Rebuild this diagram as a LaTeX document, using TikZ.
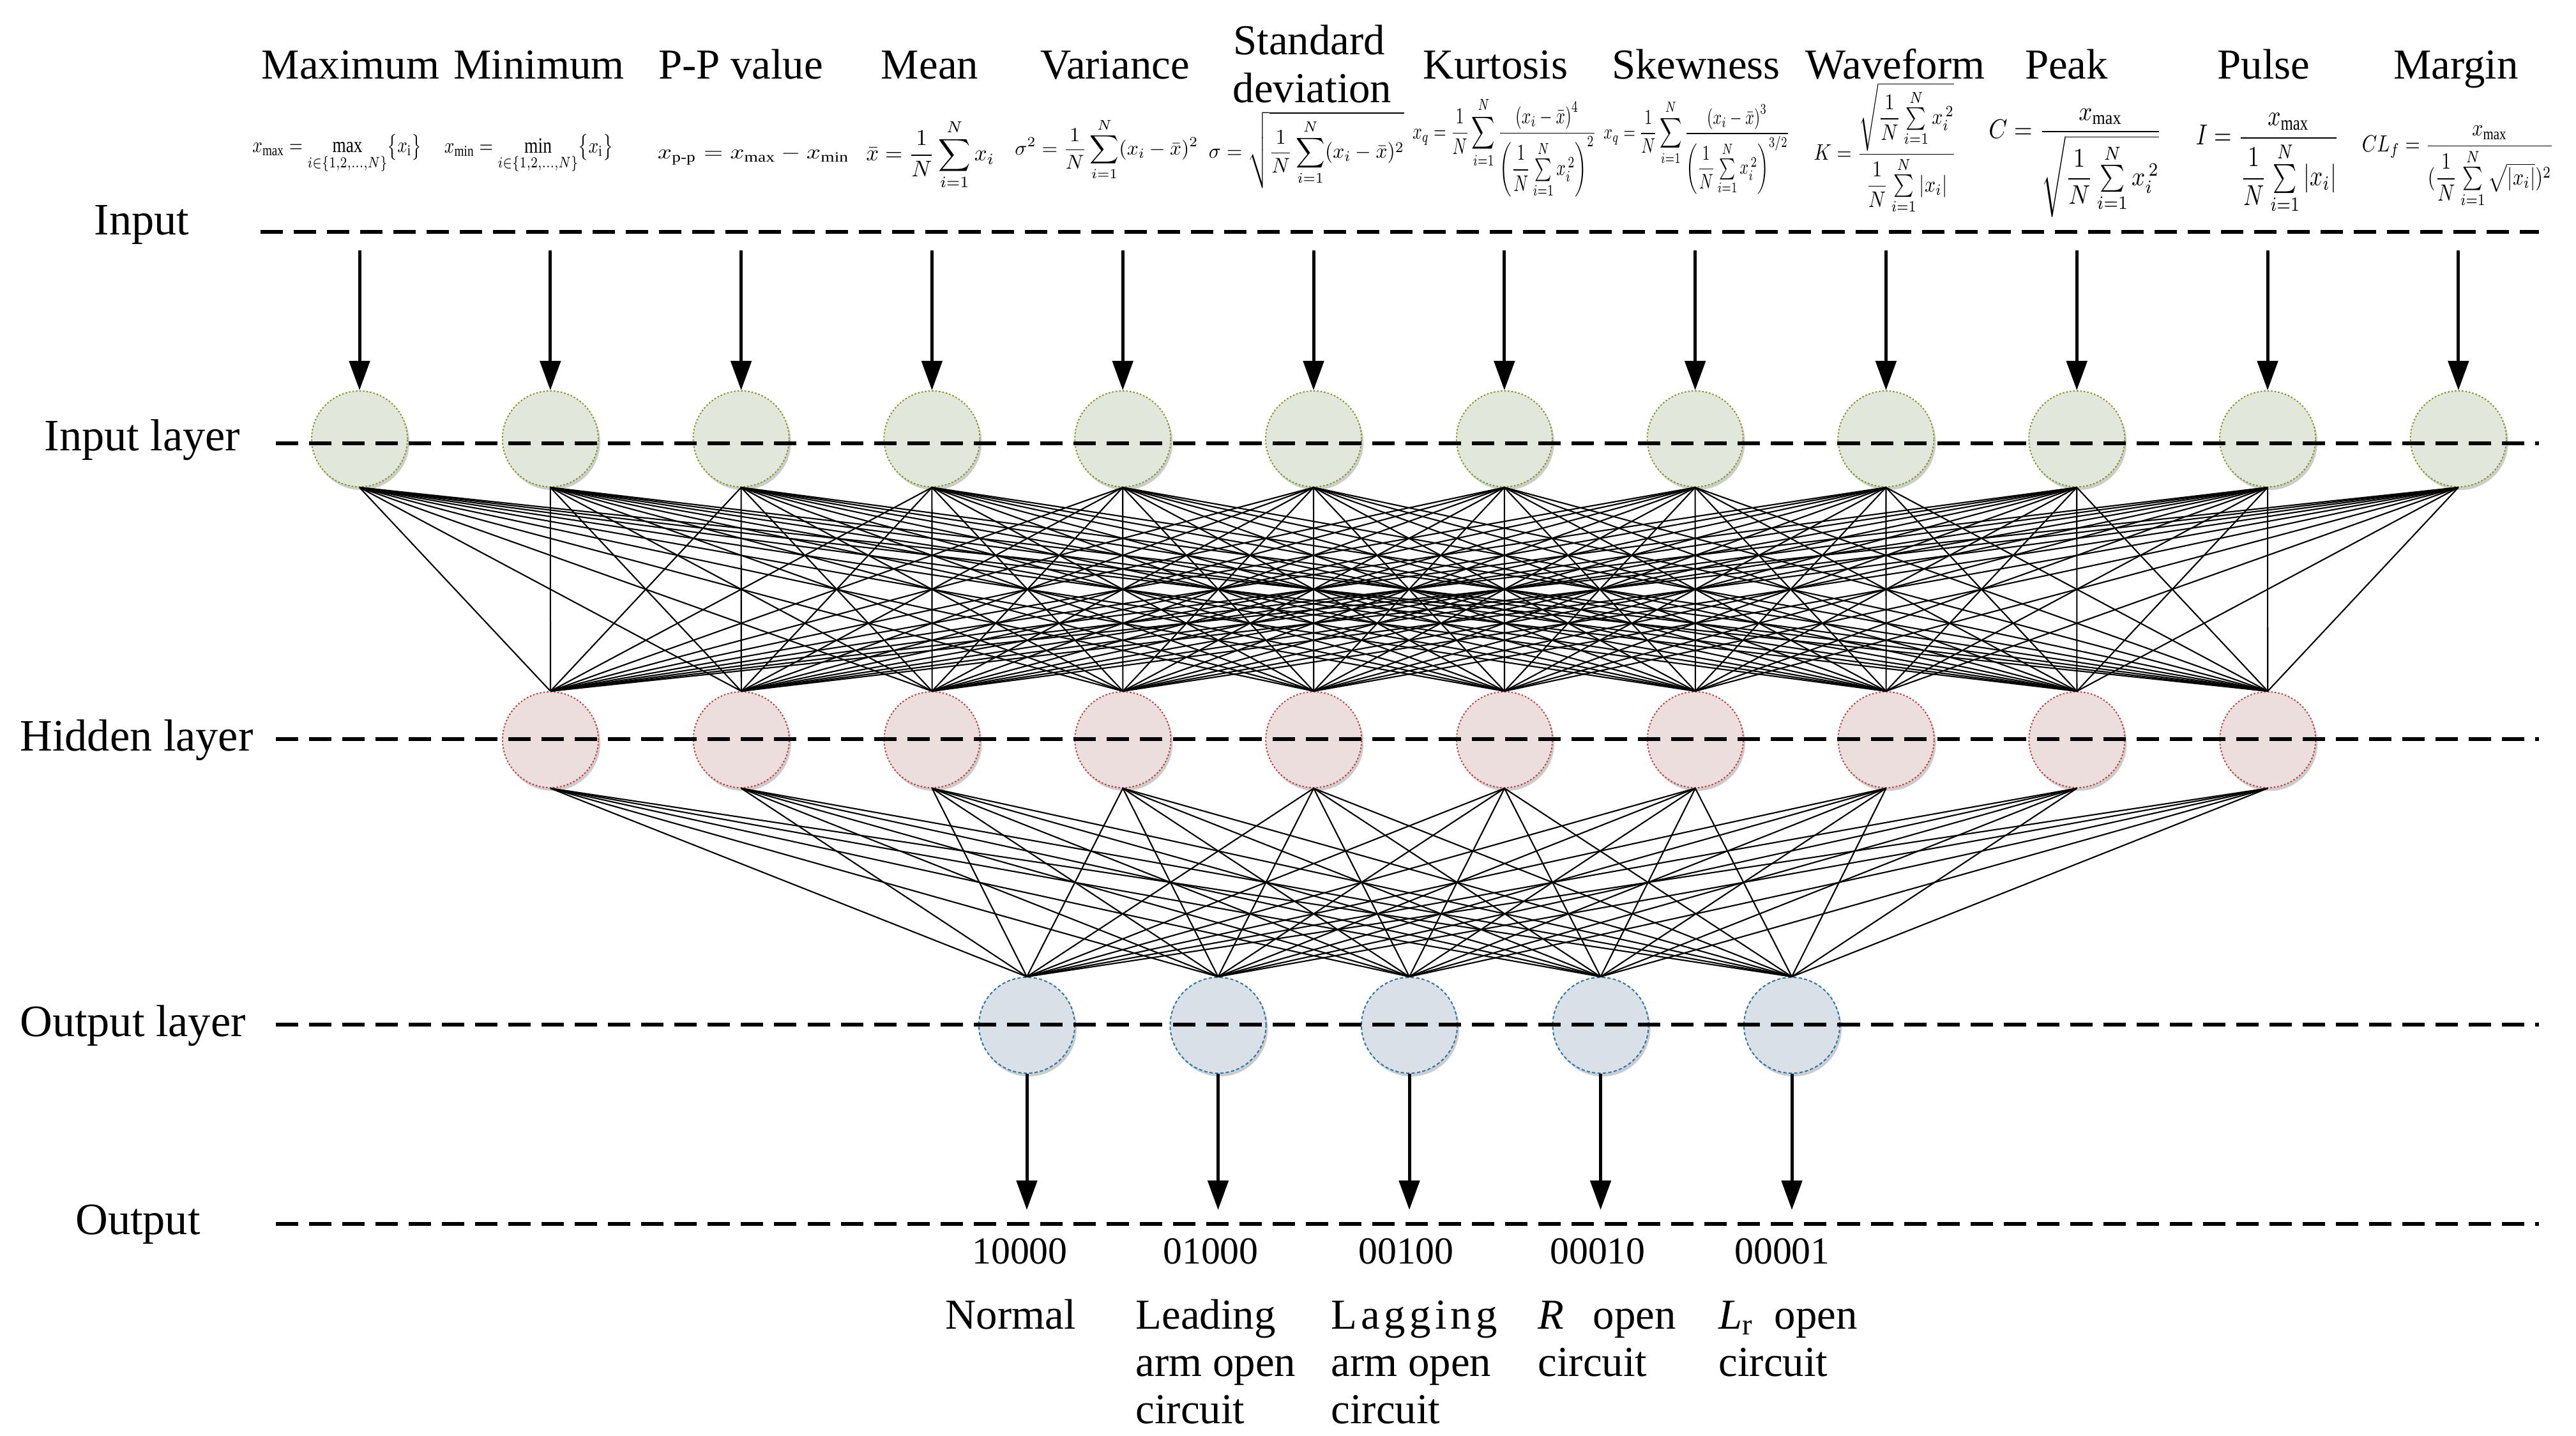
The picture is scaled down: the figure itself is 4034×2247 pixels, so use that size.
\documentclass[tikz,border=0pt]{standalone}
\usepackage{amsmath}
\usepackage{graphicx}
\usepackage{fontspec}
\setmainfont{Liberation Serif}
\usetikzlibrary{arrows.meta,shadows}
\definecolor{infill}{RGB}{226,231,220}
\definecolor{inborder}{RGB}{125,155,25}
\definecolor{hidfill}{RGB}{237,222,222}
\definecolor{hidborder}{RGB}{200,60,55}
\definecolor{outfill}{RGB}{217,224,232}
\definecolor{outborder}{RGB}{40,120,170}
\newcommand{\fml}[3]{\resizebox*{#1}{#2}{$\displaystyle #3$}}
\tikzset{
  neuron/.style={circle, minimum size=1.5cm, inner sep=0pt, line width=0.02cm,
    drop shadow={shadow xshift=0.03cm, shadow yshift=-0.05cm, fill=black!20, opacity=1}},
  innode/.style={neuron, fill=infill, draw=inborder, dash pattern=on 0.025cm off 0.03cm},
  hidnode/.style={neuron, fill=hidfill, draw=hidborder, dash pattern=on 0.025cm off 0.03cm},
  outnode/.style={neuron, fill=outfill, draw=outborder, dash pattern=on 0.05cm off 0.035cm},
  dline/.style={line width=0.06cm, dash pattern=on 0.35cm off 0.17cm},
  conn/.style={line width=0.6pt},
  arr/.style={line width=0.05cm, -{Triangle[length=0.46cm,width=0.32cm]}},
  fnode/.style={inner sep=0pt, anchor=center},
  toplabel/.style={inner sep=0pt, anchor=base, font=\fontsize{19}{23}\selectfont},
  sidelabel/.style={inner sep=0pt, anchor=base, font=\fontsize{20}{24}\selectfont},
  codelabel/.style={inner sep=0pt, anchor=base, font=\fontsize{17}{20}\selectfont},
  outlabel/.style={inner sep=0pt, anchor=base west, font=\fontsize{19}{23}\selectfont}
}
\begin{document}
\begin{tikzpicture}[x=0.01cm,y=-0.01cm]
\useasboundingbox (0,0) rectangle (4034,2247);

% ---- neurons ----
\foreach \i in {1,...,12} {
  \node[innode] (in\i) at ({563+298.8*(\i-1)}, 687) {};
}
\foreach \j in {1,...,10} {
  \node[hidnode] (hd\j) at ({862+298.8*(\j-1)}, 1158) {};
}
\foreach \k in {1,...,5} {
  \node[outnode] (out\k) at ({1608+299.5*(\k-1)}, 1605) {};
}

% ---- dashed level lines ----
\coordinate (l1a) at (408,363);  \coordinate (l1b) at (3976,363);
\coordinate (l2a) at (432,694);  \coordinate (l2b) at (3976,694);
\coordinate (l3a) at (432,1157); \coordinate (l3b) at (3976,1157);
\coordinate (l4a) at (432,1604); \coordinate (l4b) at (3976,1604);
\coordinate (l5a) at (432,1916); \coordinate (l5b) at (3976,1916);
\draw[dline] (l1a) -- (l1b);
\draw[dline] (l2a) -- (l2b);
\draw[dline] (l3a) -- (l3b);
\draw[dline] (l4a) -- (l4b);
\draw[dline] (l5a) -- (l5b);

% ---- connections ----
\foreach \i in {1,...,12} {
  \foreach \j in {1,...,10} {
    \draw[conn] (in\i.south) -- (hd\j.north);
  }
}
\foreach \j in {1,...,10} {
  \foreach \k in {1,...,5} {
    \draw[conn] (hd\j.south) -- (out\k.north);
  }
}

% ---- input / output arrows ----
\foreach \i in {1,...,12} {
  \coordinate (ia\i) at ({563+298.8*(\i-1)}, 392);
  \draw[arr] (ia\i) -- (in\i.north);
}
\foreach \k in {1,...,5} {
  \coordinate (oa\k) at ({1608+299.5*(\k-1)}, 1894);
  \draw[arr] (out\k.south) -- (oa\k);
}

% ---- side labels ----
\node[sidelabel] (tInput) at (222,367) {Input};
\node[sidelabel] (tInputLayer) at (223,705) {Input layer};
\node[sidelabel] (tHidden) at (214,1175) {Hidden layer};
\node[sidelabel] (tOutputLayer) at (208,1622) {Output layer};
\node[sidelabel] (tOutput) at (216,1932) {Output};

% ---- top labels ----
\node[toplabel] (tMax) at (549,123) {Maximum};
\node[toplabel] (tMin) at (844,123) {Minimum};
\node[toplabel] (tPP) at (1160,123) {P-P value};
\node[toplabel] (tMean) at (1456,123) {Mean};
\node[toplabel] (tVar) at (1746,123) {Variance};
\node[toplabel] (tStdA) at (2050,85) {Standard};
\node[toplabel] (tStdB) at (2055,160) {deviation};
\node[toplabel] (tKur) at (2342,123) {Kurtosis};
\node[toplabel] (tSkew) at (2656,123) {Skewness};
\node[toplabel] (tWave) at (2968,123) {Waveform};
\node[toplabel] (tPeak) at (3236,123) {Peak};
\node[toplabel] (tPulse) at (3545,123) {Pulse};
\node[toplabel] (tMargin) at (3846,123) {Margin};

% ---- formulas ----
\node[fnode] (f1) at (528,241) {\fml{2.65cm}{0.62cm}{x_{\mathrm{max}}=\max_{i\in\{1,2,\ldots,N\}}\bigl\{x_{\mathrm{i}}\bigr\}}};
\node[fnode] (f2) at (828,241) {\fml{2.64cm}{0.62cm}{x_{\mathrm{min}}=\min_{i\in\{1,2,\ldots,N\}}\bigl\{x_{\mathrm{i}}\bigr\}}};
\node[fnode] (f3) at (1180,244) {\fml{3.00cm}{0.28cm}{x_{\text{p-p}}=x_{\mathrm{max}}-x_{\mathrm{min}}}};
\node[fnode] (f4) at (1457,242) {\fml{2.01cm}{1.10cm}{\bar{x}=\frac{1}{N}\sum_{i=1}^{N}x_i}};
\node[fnode] (f5) at (1733,234) {\fml{2.87cm}{0.97cm}{\sigma^2=\frac{1}{N}\sum_{i=1}^{N}(x_i-\bar{x})^2}};
\node[fnode] (f6) at (2046,235) {\fml{3.06cm}{1.20cm}{\sigma=\sqrt{\frac{1}{N}\sum_{i=1}^{N}(x_i-\bar{x})^2}}};
\node[fnode] (f7) at (2356,231) {\fml{2.87cm}{1.57cm}{x_q=\frac{1}{N}\sum_{i=1}^{N}\frac{\left(x_i-\bar{x}\right)^4}{\left(\dfrac{1}{N}\sum\limits_{i=1}^{N}x_i^{\,2}\right)^2}}};
\node[fnode] (f8) at (2657,231) {\fml{2.91cm}{1.48cm}{x_q=\frac{1}{N}\sum_{i=1}^{N}\frac{\left(x_i-\bar{x}\right)^3}{\left(\dfrac{1}{N}\sum\limits_{i=1}^{N}x_i^{\,2}\right)^{3/2}}}};
\node[fnode] (f9) at (2952,232) {\fml{2.23cm}{2.05cm}{K=\frac{\sqrt{\dfrac{1}{N}\sum\limits_{i=1}^{N}x_i^{\,2}}}{\dfrac{1}{N}\sum\limits_{i=1}^{N}\left|x_i\right|}}};
\node[fnode] (f10) at (3250,255) {\fml{2.71cm}{1.70cm}{C=\frac{x_{\max}}{\sqrt{\dfrac{1}{N}\sum\limits_{i=1}^{N}x_i^{\,2}}}}};
\node[fnode] (f11) at (3551,256) {\fml{2.24cm}{1.58cm}{I=\frac{x_{\max}}{\dfrac{1}{N}\sum\limits_{i=1}^{N}\left|x_i\right|}}};
\node[fnode] (f12) at (3849,261) {\fml{3.00cm}{1.28cm}{CL_f=\frac{x_{\max}}{(\dfrac{1}{N}\sum\limits_{i=1}^{N}\sqrt{\left|x_i\right|})^2}}};

% ---- output codes ----
\node[codelabel] (c1) at (1597,1978) {10000};
\node[codelabel] (c2) at (1896,1978) {01000};
\node[codelabel] (c3) at (2202,1978) {00100};
\node[codelabel] (c4) at (2502,1978) {00010};
\node[codelabel] (c5) at (2791,1978) {00001};

% ---- output class names ----
\node[outlabel] (n1) at (1480,2080) {Normal};
\node[outlabel] (n2a) at (1778,2080) {Leading};
\node[outlabel] (n2b) at (1778,2154) {arm open};
\node[outlabel] (n2c) at (1778,2228) {circuit};
\node[outlabel] (n3a) at (2084,2080) {\makebox[2.60cm][s]{L\hfill a\hfill g\hfill g\hfill i\hfill n\hfill g}};
\node[outlabel] (n3b) at (2084,2154) {arm open};
\node[outlabel] (n3c) at (2084,2228) {circuit};
\node[outlabel] (n4a) at (2408,2080) {\makebox[2.16cm][s]{\textit{R} open}};
\node[outlabel] (n4b) at (2408,2154) {circuit};
\node[outlabel] (n5a) at (2691,2080) {\makebox[2.17cm][s]{\textit{L}\textsubscript{r} open}};
\node[outlabel] (n5b) at (2691,2154) {circuit};
\end{tikzpicture}
\end{document}
